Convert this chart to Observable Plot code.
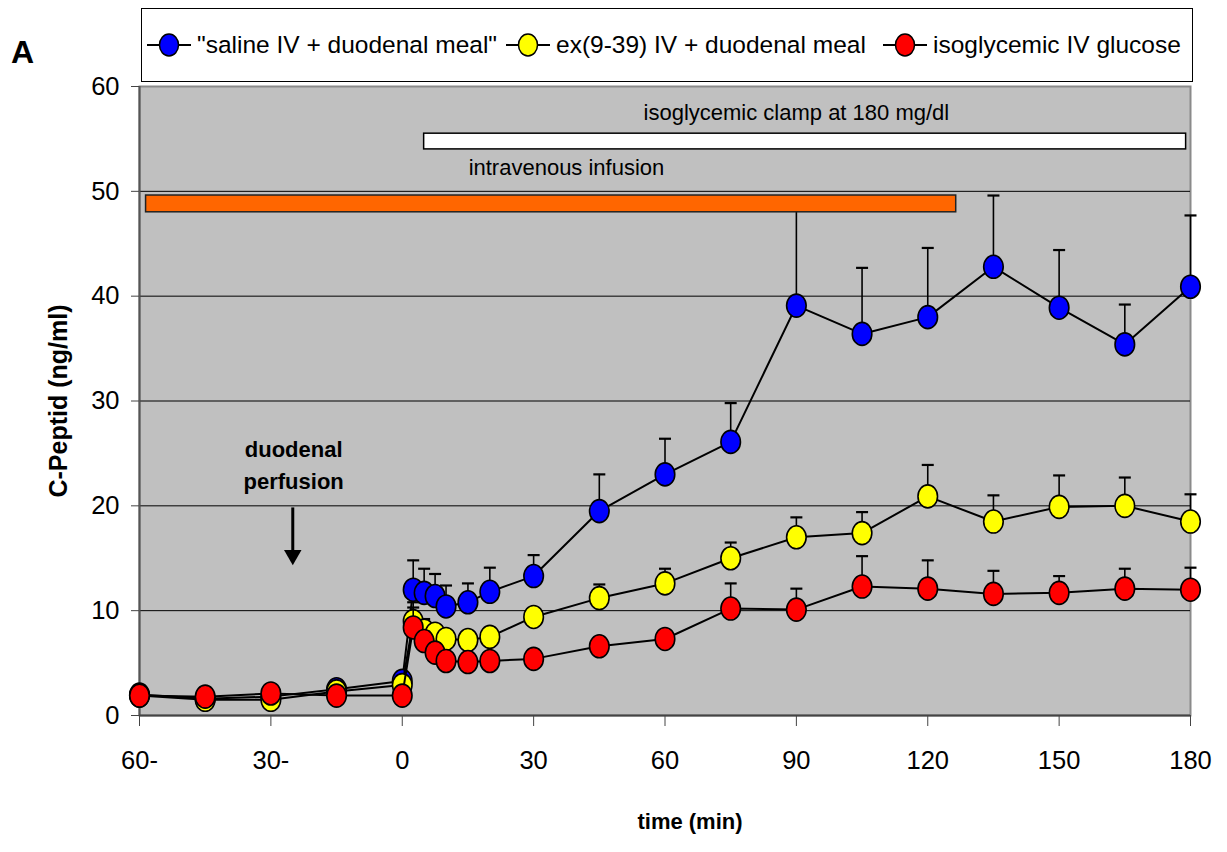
<!DOCTYPE html>
<html>
<head>
<meta charset="utf-8">
<script src="https://cdn.jsdelivr.net/npm/d3@7"></script>
<script src="https://cdn.jsdelivr.net/npm/@observablehq/plot@0.6"></script>
<style>
  body { margin: 0; background: #fff; font-family: "Liberation Sans", Arial, sans-serif; }
  #wrap { position: relative; width: 1227px; height: 852px; }
  #legend { position: absolute; left: 141px; top: 8px; width: 1050px; height: 72px; border: 1px solid #000; background: #fff; z-index: 2; font-size: 24.5px; }
  .item { position: absolute; top: 0; height: 72px; display: flex; align-items: center; white-space: nowrap; }
  .item svg { margin-right: 6px; }
  #panel { position: absolute; left: 11px; top: 34px; font-weight: bold; font-size: 32px; z-index: 2; }
</style>
</head>
<body>
<div id="wrap">
  <div id="panel">A</div>
  <div id="legend"></div>
  <div id="chart"></div>
</div>
<script>
// ---------------- data ----------------
const times = [-60, -45, -30, -15, 0, 2.5, 5, 7.5, 10, 15, 20, 30, 45, 60, 75, 90, 105, 120, 135, 150, 165, 180];

const salineMean = [2.0, 1.6, 1.8, 2.5, 3.3, 12.0, 11.7, 11.4, 10.4, 10.8, 11.8, 13.3, 19.5, 23.0, 26.1, 39.1, 36.4, 38.0, 42.8, 38.9, 35.4, 40.9];
const salineSem  = [0.2, 0.2, 0.2, 0.3, 0.4, 2.8, 2.3, 2.1, 2.0, 1.8, 2.3, 2.0, 3.5, 3.4, 3.7, 9.9, 6.3, 6.6, 6.8, 5.5, 3.8, 6.8];

const exendinMean = [1.9, 1.5, 1.5, 2.3, 2.9, 9.0, 8.1, 7.8, 7.3, 7.2, 7.5, 9.4, 11.2, 12.6, 15.0, 17.0, 17.4, 20.9, 18.5, 19.9, 20.0, 18.5];
const exendinSem  = [0.2, 0.2, 0.2, 0.3, 0.4, 1.8, 1.1, 0.8, 0.6, 0.5, 0.6, 0.7, 1.3, 1.4, 1.5, 1.9, 2.0, 3.0, 2.5, 3.0, 2.7, 2.6];

const glucoseMean = [1.9, 1.8, 2.1, 1.9, 1.9, 8.4, 7.1, 6.0, 5.2, 5.1, 5.2, 5.4, 6.6, 7.3, 10.2, 10.1, 12.3, 12.1, 11.6, 11.7, 12.1, 12.0];
const glucoseSem  = [0.2, 0.2, 0.2, 0.2, 0.2, 1.9, 0.9, 0.6, 0.5, 0.5, 0.5, 0.6, 0.5, 0.6, 2.4, 2.0, 2.9, 2.7, 2.2, 1.6, 1.9, 2.1];

const seriesNames = ['"saline IV + duodenal meal"', 'ex(9-39) IV + duodenal meal', 'isoglycemic IV glucose'];
const seriesColors = ["#0000ff", "#ffff00", "#ff0000"];

const xTicks = [-60, -30, 0, 30, 60, 90, 120, 150, 180];
const xTickLabels = ["60-", "30-", "0", "30", "60", "90", "120", "150", "180"];
const yTicks = [0, 10, 20, 30, 40, 50, 60];
const gridValues = [10, 20, 30, 40, 50];

const xTitle = "time (min)";
const yTitle = "C-Peptid (ng/ml)";

// annotation bars (time span, value span)
const clampBar = {x1: 5, x2: 179, y1: 54.0, y2: 55.5};
const infusionBar = {x1: -58.5, x2: 126.5, y1: 48.0, y2: 49.6};
const labelsRegular = [
  {x: 90, y: 57.5, text: "isoglycemic clamp at 180 mg/dl"},
  {x: 37.5, y: 52.2, text: "intravenous infusion"}
];
const labelsBold = [{x: -24.8, y: 24.1, text: "duodenal\nperfusion"}];
const arrowSpec = {x: -25, y1: 19.8, y2: 15.3};

// ---------------- build ----------------
const means = [salineMean, exendinMean, glucoseMean];
const sems = [salineSem, exendinSem, glucoseSem];
const series = seriesNames.map((name, s) =>
  times.map((t, i) => ({t, v: means[s][i], e: sems[s][i], name}))
);
const xLabelMap = new Map(xTicks.map((t, i) => [t, xTickLabels[i]]));

const ellipseSymbol = {
  draw(ctx, size) {
    const r = Math.sqrt(size / Math.PI), rx = r * 0.85, ry = r, k = 0.5523;
    ctx.moveTo(rx, 0);
    ctx.bezierCurveTo(rx, ry * k, rx * k, ry, 0, ry);
    ctx.bezierCurveTo(-rx * k, ry, -rx, ry * k, -rx, 0);
    ctx.bezierCurveTo(-rx, -ry * k, -rx * k, -ry, 0, -ry);
    ctx.bezierCurveTo(rx * k, -ry, rx, -ry * k, rx, 0);
    ctx.closePath();
  }
};
const capSymbol = {
  draw(ctx, size) {
    const r = Math.sqrt(size / Math.PI);
    ctx.moveTo(-r, 0);
    ctx.lineTo(r, 0);
  }
};

const seriesMarks = series.flatMap((data, s) => [
  Plot.line(data, {x: "t", y: "v", stroke: "black", strokeWidth: 2}),
  Plot.ruleX(data, {x: "t", y1: "v", y2: d => d.v + d.e, stroke: "black", strokeWidth: 1.6}),
  Plot.dot(data, {x: "t", y: d => d.v + d.e, symbol: capSymbol, r: 6, stroke: "black", strokeWidth: 2.2}),
  Plot.dot(data, {x: "t", y: "v", symbol: ellipseSymbol, r: 11.5, fill: seriesColors[s], stroke: "black", strokeWidth: 1.6})
]);

const font = '"Liberation Sans", Arial, sans-serif';

const chart = Plot.plot({
  width: 1227,
  height: 852,
  marginTop: 86,
  marginBottom: 137,
  marginLeft: 139,
  marginRight: 37,
  style: {fontFamily: font, fontSize: "25px", color: "black", background: "transparent", overflow: "visible"},
  x: {domain: [-60, 180]},
  y: {domain: [0, 60]},
  marks: [
    Plot.frame({fill: "#c0c0c0", stroke: "#8a8a8a", strokeWidth: 2}),
    Plot.ruleY(gridValues, {stroke: "black", strokeWidth: 1}),
    Plot.ruleX([-60], {stroke: "#555", strokeWidth: 2}),
    Plot.ruleY([0], {stroke: "#444", strokeWidth: 2}),
    Plot.axisY({ticks: yTicks, tickSize: 8, tickPadding: 12, fontSize: 25.5, label: null, stroke: "#444"}),
    Plot.axisX({ticks: xTicks, tickFormat: d => xLabelMap.get(d), tickSize: 11, tickPadding: 24, fontSize: 25.5, label: null, stroke: "#444"}),
    Plot.text([yTitle], {text: d => d, frameAnchor: "left", textAnchor: "middle", rotate: -90, dx: -81, fontWeight: "bold", fontSize: 25}),
    Plot.text([xTitle], {text: d => d, frameAnchor: "bottom", dx: 25, dy: 113, fontWeight: "bold", fontSize: 22}),
    ...seriesMarks,
    Plot.rect([clampBar], {x1: "x1", x2: "x2", y1: "y1", y2: "y2", fill: "white", stroke: "black", strokeWidth: 1.5}),
    Plot.rect([infusionBar], {x1: "x1", x2: "x2", y1: "y1", y2: "y2", fill: "#ff6600", stroke: "#222", strokeWidth: 1.5}),
    Plot.text(labelsRegular, {x: "x", y: "y", text: "text", fontSize: 22}),
    Plot.text(labelsBold, {x: "x", y: "y", text: "text", fontSize: 22, fontWeight: "bold", lineHeight: 1.45}),
    Plot.ruleX([arrowSpec], {x: "x", y1: "y1", y2: "y2", stroke: "black", strokeWidth: 3}),
    Plot.dot([arrowSpec], {x: "x", y: "y2", symbol: "triangle", rotate: 180, r: 6.5, fill: "black", stroke: "none"})
  ]
});
document.getElementById("chart").appendChild(chart);

// ---------------- legend ----------------
const legend = document.getElementById("legend");
const itemLefts = [5, 364, 741];
seriesNames.forEach((name, s) => {
  const item = document.createElement("div");
  item.className = "item";
  item.style.left = itemLefts[s] + "px";
  item.innerHTML = `<svg width="44" height="26"><line x1="0" x2="44" y1="13" y2="13" stroke="black" stroke-width="2"/><ellipse cx="22" cy="13" rx="9.5" ry="11" fill="${seriesColors[s]}" stroke="black" stroke-width="1.5"/></svg>`;
  const span = document.createElement("span");
  span.textContent = name;
  item.appendChild(span);
  legend.appendChild(item);
});
</script>
</body>
</html>
